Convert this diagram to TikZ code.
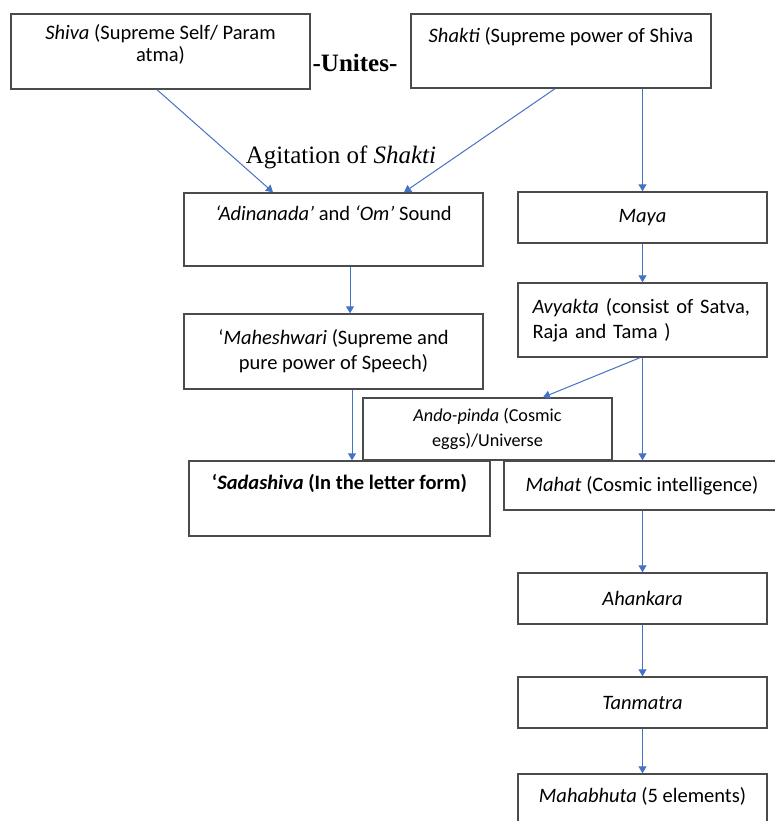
\documentclass[tikz,border=0pt]{standalone}
\usepackage{fontspec}
\setmainfont{Carlito}
\newfontfamily\timesfont{Liberation Serif}
\usetikzlibrary{arrows.meta}

\definecolor{linkblue}{RGB}{68,114,196}
\definecolor{boxgray}{RGB}{75,75,75}

\begin{document}
\begin{tikzpicture}[x=1pt,y=-1pt,
  box/.style={draw=boxgray,line width=1.4pt,fill=white,align=center,inner sep=0pt,
    font=\fontsize{20.5}{25}\selectfont},
  link/.style={draw=linkblue,line width=1pt,-{Triangle[length=7pt,width=8pt]}},
  note/.style={font=\timesfont\fontsize{25}{30}\selectfont}]
\useasboundingbox (0,0) rectangle (774,821);

% left column
\node[box, minimum width=299pt, minimum height=75pt, font=\fontsize{20.5}{22}\selectfont] (shiva) at (160.5,51.5) {\textit{Shiva} (Supreme Self/ Param\\ atma)\\[-6pt]};
\node[box, minimum width=299pt, minimum height=73pt] (adi) at (333.5,229.5) {\textit{‘Adinanada’} and \textit{‘Om’} Sound\\ \strut};
\node[box, minimum width=299pt, minimum height=75pt] (mahesh) at (333.5,351.5) {‘\textit{Maheshwari} (Supreme and\\ pure power of Speech)};
\node[box, minimum width=301pt, minimum height=75pt] (sada) at (339.5,498.5) {\textbf{‘\textit{Sadashiva} (In the letter form)}\\ \strut};

% right column
\node[box, minimum width=300pt, minimum height=74pt] (shakti) at (561,51) {\textit{Shakti} (Supreme power of Shiva\\ \strut};
\node[box, minimum width=249pt, minimum height=51pt] (maya) at (642.5,217.5) {\textit{Maya}};
\node[box, minimum height=74pt, text width=220pt, align=left, inner xsep=14.5pt] (avyakta) at (642.5,320) {\textit{Avyakta} (consist of Satva,\\ Raja and Tama )};
\node[box, minimum width=276pt, minimum height=49pt] (mahat) at (642,485.5) {\textit{Mahat} (Cosmic intelligence)};
\node[box, minimum width=249pt, minimum height=51pt] (ahankara) at (642.5,598.5) {\textit{Ahankara}};
\node[box, minimum width=249pt, minimum height=51pt] (tanmatra) at (642.5,702.5) {\textit{Tanmatra}};
\node[box, minimum width=249pt, minimum height=74pt] (mahabhuta) at (642.5,811) {\textit{Mahabhuta} (5 elements)\\ \strut};
\node[box, minimum width=249pt, minimum height=62pt, font=\fontsize{18.2}{25}\selectfont] (ando) at (487.5,429) {\textit{Ando-pinda} (Cosmic\\ eggs)/Universe};

% free labels
\node[note] (unites) at (355,63) {\textbf{-Unites-}};
\node[note] (agit) at (341,157) {Agitation of \textit{Shakti}};

\path[link] ([xshift=-3.5pt]shiva.south) -- ([xshift=-60.5pt]adi.north);
\path[link] ([xshift=-6pt]shakti.south) -- ([xshift=70.5pt]adi.north);
\path[link] (shakti.south -| maya.north) -- (maya.north);
\path[link] ([xshift=16.5pt]adi.south) -- ([xshift=16.5pt]mahesh.north);
\path[link] ([xshift=18.5pt]mahesh.south) -- ([xshift=18.5pt]mahesh.south |- sada.north);
\path[link] (maya.south) -- (avyakta.north);
\path[link] ([xshift=-2.5pt]avyakta.south) -- ([xshift=55.5pt]ando.north);
\path[link] (avyakta.south) -- (avyakta.south |- mahat.north);
\path[link] (mahat.south -| ahankara.north) -- (ahankara.north);
\path[link] (ahankara.south) -- (tanmatra.north);
\path[link] (tanmatra.south) -- (mahabhuta.north);
\end{tikzpicture}
\end{document}
